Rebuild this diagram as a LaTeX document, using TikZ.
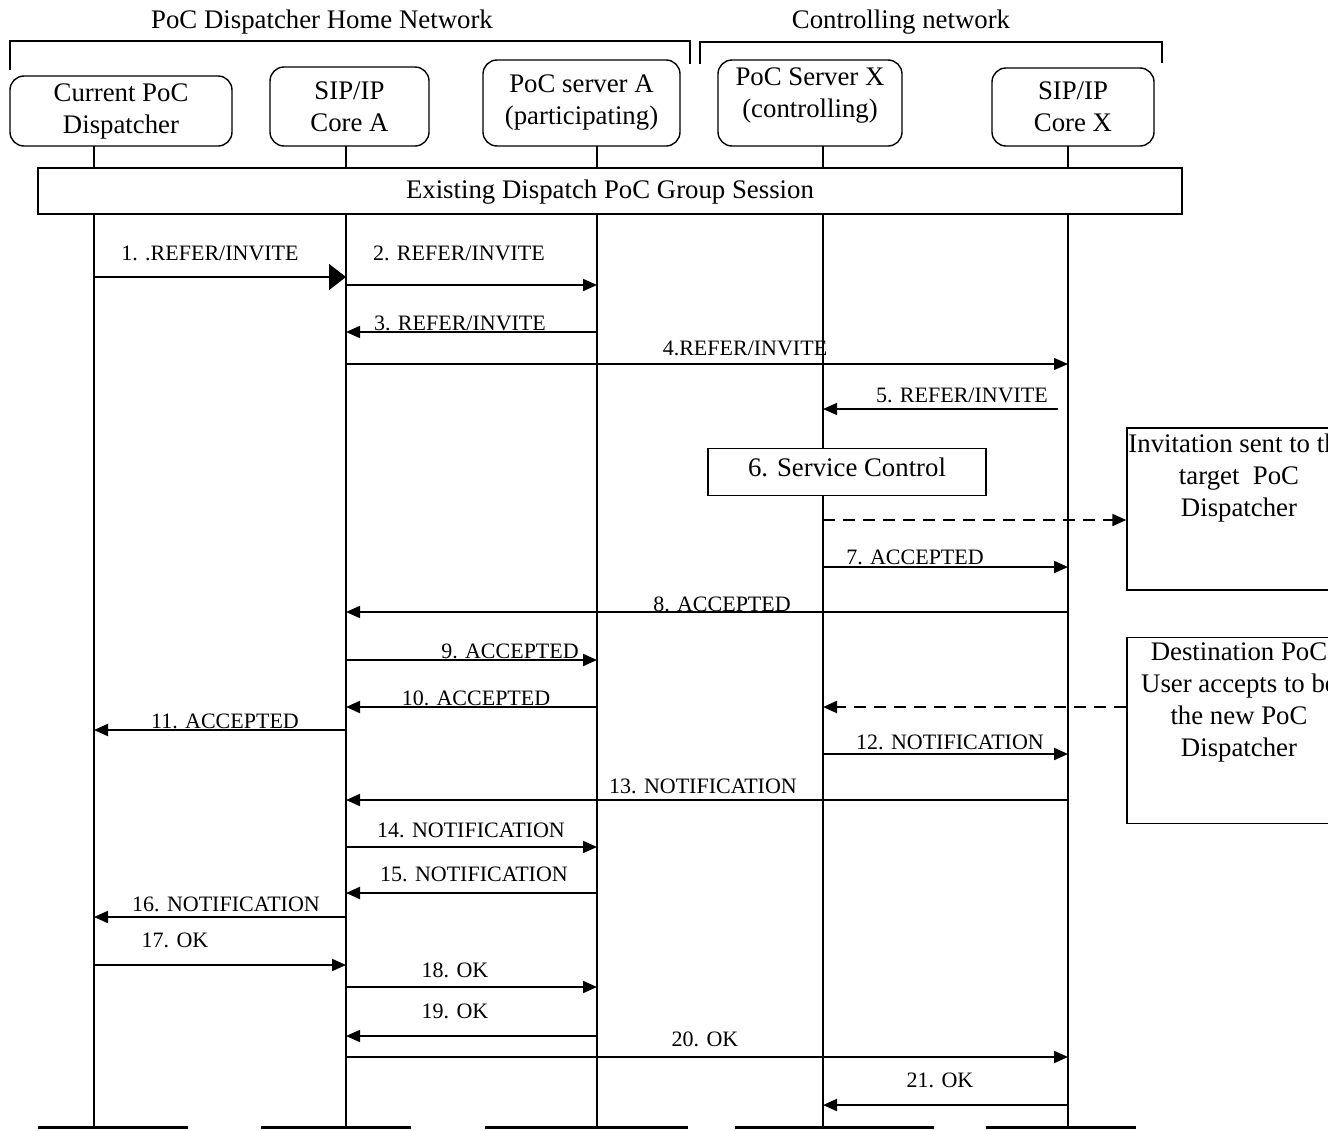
\documentclass[tikz,border=0pt]{standalone}
\usepackage{fontspec}
\setmainfont{Liberation Serif}
\usetikzlibrary{arrows.meta}

\tikzset{
  entity/.style={draw, rounded corners=7pt, line width=0.7pt, align=center, inner sep=1pt,
    font=\fontsize{13.4}{16}\selectfont},
  bigtext/.style={font=\fontsize{13.4}{16}\selectfont, inner sep=1pt},
  lbl/.style={font=\fontsize{11}{13}\selectfont, inner sep=0pt},
  lifeline/.style={line width=0.65pt},
  bracket/.style={line width=0.65pt},
  endbar/.style={line width=1.5pt},
  msg/.style={line width=1pt, -{Triangle[length=7pt,width=6pt]}},
  thinmsg/.style={line width=0.65pt, -{Triangle[length=7pt,width=6pt]}},
  bigmsg/.style={line width=0.65pt, -{Triangle[length=8.5pt,width=13pt]}},
  dashmsg/.style={line width=1pt, dash pattern=on 6pt off 4pt, -{Triangle[length=7pt,width=6pt]}},
  notebox/.style={draw, line width=0.7pt, fill=white, minimum width=112pt}
}

\begin{document}
\begin{tikzpicture}[x=0.5pt,y=-0.5pt]
\useasboundingbox (0,0) rectangle (1328,1130);
\clip (0,0) rectangle (1328,1130);

% networks
\node[bigtext] (homenet) at (322,22) {PoC Dispatcher Home Network};
\node[bigtext] (ctrlnet) at (901,22) {Controlling network};
\draw[bracket] (10,70) -- (10,41) -- (690,41) -- (690,64);
\draw[bracket] (700,64) -- (700,42) -- (1162,42) -- (1162,63);

% entities
\node[entity, minimum width=111pt, minimum height=35pt] (disp) at (121,111) {Current PoC\\Dispatcher};
\node[entity, minimum width=79.5pt, minimum height=39.5pt] (coreA) at (349.5,106.5) {SIP/IP\\Core A};
\node[entity, minimum width=98.5pt, minimum height=43pt] (srvA) at (581.5,103) {PoC server A\\(participating)};
\node[entity, minimum width=92pt, minimum height=43pt] (srvX) at (810,103) {PoC Server X\\(controlling)\\[-6pt]~};
\node[entity, minimum width=81pt, minimum height=39pt] (coreX) at (1073,107) {SIP/IP\\Core X};

% lifelines
\coordinate (ldisp) at (94,146);
\coordinate (lcoreA) at (346,146);
\coordinate (lsrvA) at (597,146);
\coordinate (lsrvX) at (823,146);
\coordinate (lcoreX) at (1068,146);
\foreach \l in {ldisp,lcoreA,lsrvA,lsrvX,lcoreX}
  \draw[lifeline] (\l) -- (\l |- 0,1127);
\draw[endbar] (38,1127) -- (188,1127);
\draw[endbar] (261,1127) -- (411,1127);
\draw[endbar] (485,1127) -- (688,1127);
\draw[endbar] (735,1127) -- (934,1127);
\draw[endbar] (986,1127) -- (1136,1127);

\node[draw, fill=white, line width=0.7pt, minimum width=572pt, minimum height=23pt, bigtext, text depth=2pt] (session) at (610,191) {Existing Dispatch PoC Group Session};

% REFER/INVITE
\draw[bigmsg] (ldisp |- 0,277) -- (lcoreA |- 0,277);
\node[lbl] (m1) at (210,253) {1. .REFER/INVITE};
\draw[msg] (lcoreA |- 0,285) -- (lsrvA |- 0,285);
\node[lbl] (m2) at (459,253) {2. REFER/INVITE};
\draw[msg] (lsrvA |- 0,332) -- (lcoreA |- 0,332);
\node[lbl] (m3) at (460,323) {3. REFER/INVITE};
\draw[thinmsg] (lcoreA |- 0,364) -- (lcoreX |- 0,364);
\node[lbl] (m4) at (745,348) {4.REFER/INVITE};
\coordinate (s5) at (1058,409);
\draw[thinmsg] (s5) -- (lsrvX |- s5);
\node[lbl] (m5) at (962,395) {5. REFER/INVITE};

% service control
\node[draw, fill=white, line width=0.7pt, minimum width=139pt, minimum height=23.5pt, bigtext, text height=9.5pt, text depth=5.5pt] (svc) at (847,472) {6. Service Control};
\node[notebox, minimum height=81pt] (invbox) at (1239,509) {};
\node[bigtext, align=center, anchor=north] (invtxt) at ([yshift=-2pt]invbox.north) {Invitation sent to the\\target\ \ PoC\\Dispatcher};
\draw[dashmsg] (lsrvX |- 0,520) -- (invbox.west |- 0,520);

% ACCEPTED
\draw[msg] (lsrvX |- 0,567) -- (lcoreX |- 0,567);
\node[lbl] (m7) at (915,557) {7. ACCEPTED};
\draw[msg] (lcoreX |- 0,612) -- (lcoreA |- 0,612);
\node[lbl] (m8) at (722,604) {8. ACCEPTED};
\draw[msg] (lcoreA |- 0,660) -- (lsrvA |- 0,660);
\node[lbl] (m9) at (510,651) {9. ACCEPTED};
\draw[msg] (lsrvA |- 0,707) -- (lcoreA |- 0,707);
\node[lbl] (m10) at (476,698) {10. ACCEPTED};
\draw[msg] (lcoreA |- 0,730) -- (ldisp |- 0,730);
\node[lbl] (m11) at (225,721) {11. ACCEPTED};

\node[notebox, minimum height=93pt] (destbox) at (1239,730.5) {};
\node[bigtext, align=center, anchor=north] (desttxt) at ([yshift=-2pt]destbox.north) {Destination PoC\\User accepts to be\\the new PoC\\Dispatcher};
\draw[dashmsg] (destbox.west |- 0,707) -- (lsrvX |- 0,707);

% NOTIFICATION
\draw[msg] (lsrvX |- 0,754) -- (lcoreX |- 0,754);
\node[lbl] (m12) at (950,742) {12. NOTIFICATION};
\draw[msg] (lcoreX |- 0,800) -- (lcoreA |- 0,800);
\node[lbl] (m13) at (703,786) {13. NOTIFICATION};
\draw[msg] (lcoreA |- 0,847) -- (lsrvA |- 0,847);
\node[lbl] (m14) at (471,830) {14. NOTIFICATION};
\draw[msg] (lsrvA |- 0,893) -- (lcoreA |- 0,893);
\node[lbl] (m15) at (474,874) {15. NOTIFICATION};
\draw[msg] (lcoreA |- 0,917) -- (ldisp |- 0,917);
\node[lbl] (m16) at (226,904) {16. NOTIFICATION};

% OK
\draw[msg] (ldisp |- 0,965) -- (lcoreA |- 0,965);
\node[lbl] (m17) at (175,940) {17. OK};
\draw[msg] (lcoreA |- 0,987) -- (lsrvA |- 0,987);
\node[lbl] (m18) at (455,970) {18. OK};
\draw[msg] (lsrvA |- 0,1036) -- (lcoreA |- 0,1036);
\node[lbl] (m19) at (455,1011) {19. OK};
\draw[msg] (lcoreA |- 0,1057) -- (lcoreX |- 0,1057);
\node[lbl] (m20) at (705,1039) {20. OK};
\draw[msg] (lcoreX |- 0,1105) -- (lsrvX |- 0,1105);
\node[lbl] (m21) at (940,1080) {21. OK};
\end{tikzpicture}
\end{document}
